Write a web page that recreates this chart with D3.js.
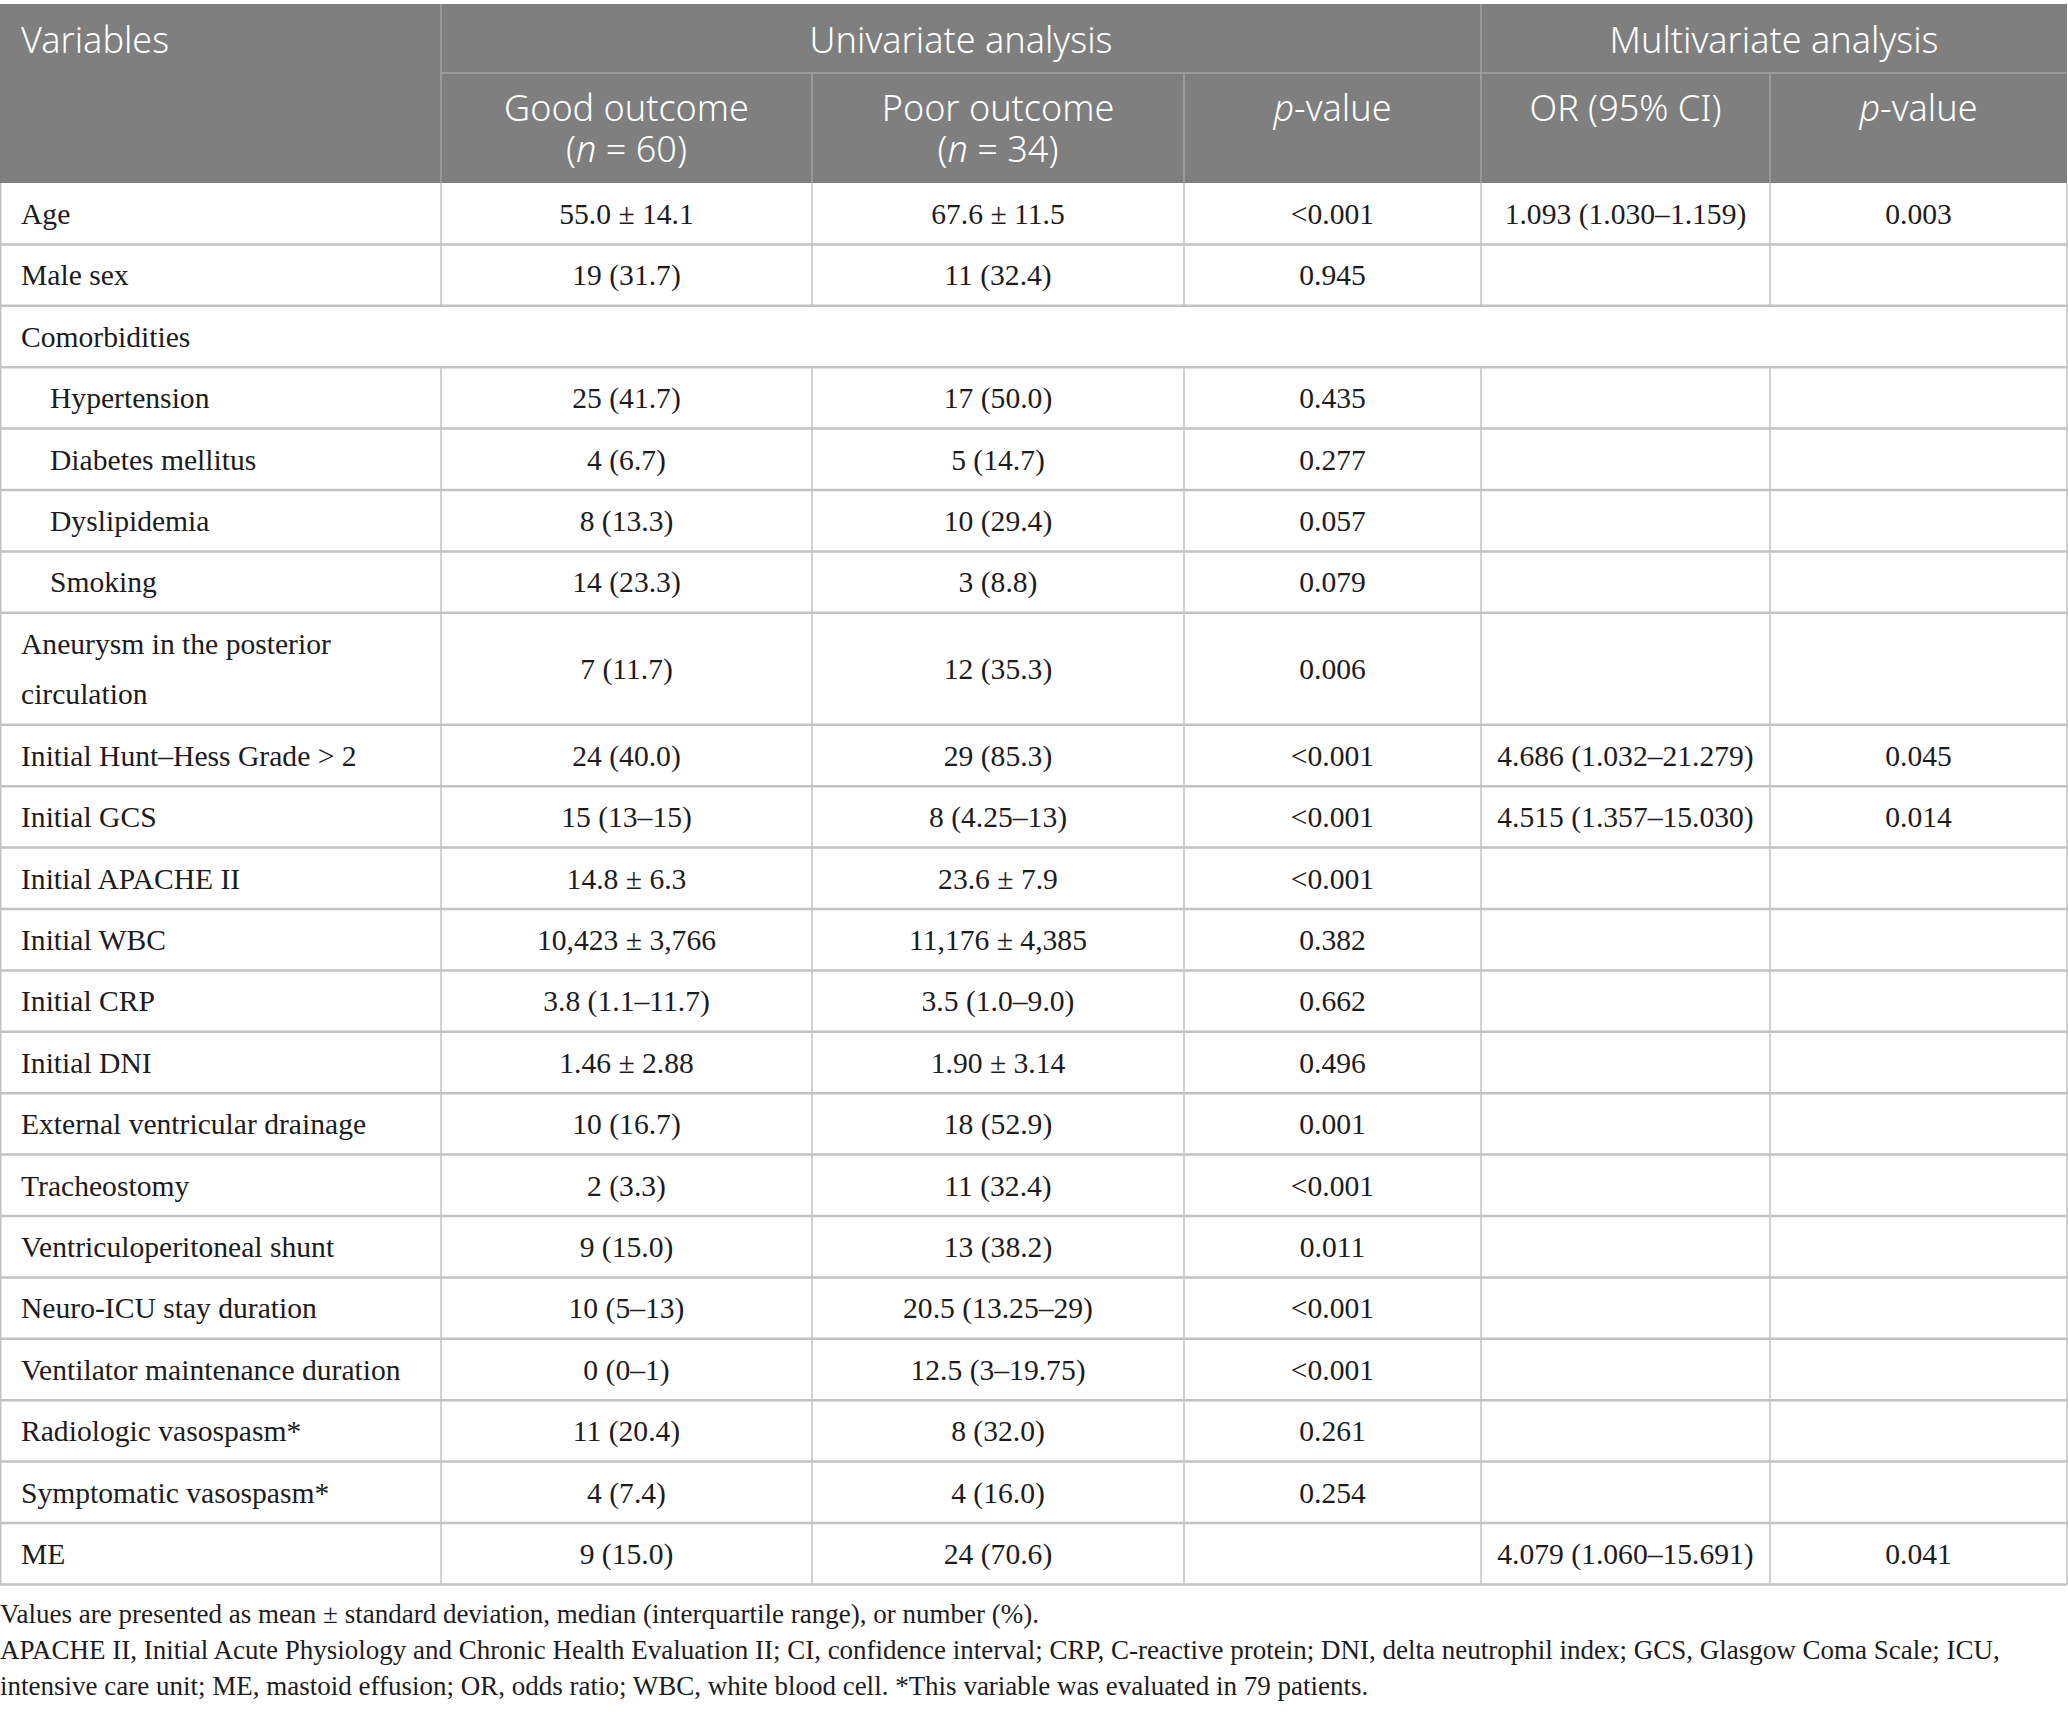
<!DOCTYPE html>
<html>
<head>
<meta charset="utf-8">
<script src="https://cdn.jsdelivr.net/npm/d3@7"></script>
<style>
  html, body { margin: 0; padding: 0; background: #fff; }
  svg { display: block; }
</style>
</head>
<body>
<div id="chart"></div>
<script>
// table content
const variables = [
  "Age", "Male sex", "Comorbidities", "Hypertension", "Diabetes mellitus",
  "Dyslipidemia", "Smoking", "Aneurysm in the posterior|circulation",
  "Initial Hunt\u2013Hess Grade > 2", "Initial GCS", "Initial APACHE II",
  "Initial WBC", "Initial CRP", "Initial DNI", "External ventricular drainage",
  "Tracheostomy", "Ventriculoperitoneal shunt", "Neuro-ICU stay duration",
  "Ventilator maintenance duration", "Radiologic vasospasm*",
  "Symptomatic vasospasm*", "ME"
]
const indented = [3, 4, 5, 6]
const spanRows = [2]

const goodOutcome = [
  "55.0 \u00b1 14.1", "19 (31.7)", "", "25 (41.7)", "4 (6.7)", "8 (13.3)",
  "14 (23.3)", "7 (11.7)", "24 (40.0)", "15 (13\u201315)", "14.8 \u00b1 6.3",
  "10,423 \u00b1 3,766", "3.8 (1.1\u201311.7)", "1.46 \u00b1 2.88", "10 (16.7)",
  "2 (3.3)", "9 (15.0)", "10 (5\u201313)", "0 (0\u20131)", "11 (20.4)",
  "4 (7.4)", "9 (15.0)"
]
const poorOutcome = [
  "67.6 \u00b1 11.5", "11 (32.4)", "", "17 (50.0)", "5 (14.7)", "10 (29.4)",
  "3 (8.8)", "12 (35.3)", "29 (85.3)", "8 (4.25\u201313)", "23.6 \u00b1 7.9",
  "11,176 \u00b1 4,385", "3.5 (1.0\u20139.0)", "1.90 \u00b1 3.14", "18 (52.9)",
  "11 (32.4)", "13 (38.2)", "20.5 (13.25\u201329)", "12.5 (3\u201319.75)",
  "8 (32.0)", "4 (16.0)", "24 (70.6)"
]
const pUnivariate = [
  "<0.001", "0.945", "", "0.435", "0.277", "0.057", "0.079", "0.006",
  "<0.001", "<0.001", "<0.001", "0.382", "0.662", "0.496", "0.001",
  "<0.001", "0.011", "<0.001", "<0.001", "0.261", "0.254", ""
]
const orCI = [
  "1.093 (1.030\u20131.159)", "", "", "", "", "", "", "",
  "4.686 (1.032\u201321.279)", "4.515 (1.357\u201315.030)", "", "", "", "", "",
  "", "", "", "", "", "", "4.079 (1.060\u201315.691)"
]
const pMultivariate = [
  "0.003", "", "", "", "", "", "", "", "0.045", "0.014", "", "", "", "", "",
  "", "", "", "", "", "", "0.041"
]
const footnotes = [
  "Values are presented as mean \u00b1 standard deviation, median (interquartile range), or number (%).",
  "APACHE II, Initial Acute Physiology and Chronic Health Evaluation II; CI, confidence interval; CRP, C-reactive protein; DNI, delta neutrophil index; GCS, Glasgow Coma Scale; ICU,",
  "intensive care unit; ME, mastoid effusion; OR, odds ratio; WBC, white blood cell. *This variable was evaluated in 79 patients."
]

const W = 2068, H = 1714
const colEdges = [0, 441, 812, 1184, 1481, 1770, 2067]
const headTop = 4, headMid = 73, headBottom = 183
const rowH = 61.4, tallH = 112
const serif = "'Liberation Serif', 'Times New Roman', serif"
const sans = "'Noto Sans', 'Open Sans', sans-serif"
const lineCol = "#c2c2c2"

const rowHeights = variables.map(v => v.includes("|") ? tallH : rowH)
const rowTops = d3.cumsum([0, ...rowHeights]).map(d => d + headBottom)
const rows = variables.map((v, i) => ({
  i, label: v.split("|"), top: rowTops[i], h: rowHeights[i],
  cells: [goodOutcome[i], poorOutcome[i], pUnivariate[i], orCI[i], pMultivariate[i]]
}))

const svg = d3.select("#chart").append("svg")
  .attr("width", W).attr("height", H)
  .attr("viewBox", [0, 0, W, H])

// header background
svg.append("rect")
  .attr("x", 0).attr("y", headTop)
  .attr("width", colEdges[6]).attr("height", headBottom - headTop)
  .attr("fill", "#7e7f7e")

const head = svg.append("g").attr("fill", "#fff").attr("font-family", sans)
  .attr("font-size", 36).attr("font-weight", 300)

head.append("text").attr("x", 21).attr("y", 53).text("Variables")
head.append("text").attr("x", (colEdges[1] + colEdges[4]) / 2).attr("y", 53)
  .attr("text-anchor", "middle").text("Univariate analysis")
head.append("text").attr("x", (colEdges[4] + colEdges[6]) / 2).attr("y", 53)
  .attr("text-anchor", "middle").text("Multivariate analysis")

const subHeads = [
  [["Good outcome"], ["(", ["n"], " = 60)"]],
  [["Poor outcome"], ["(", ["n"], " = 34)"]],
  [[["p"], "-value"]],
  [["OR (95% CI)"]],
  [[["p"], "-value"]]
]
subHeads.forEach((lines, c) => {
  const cx = (colEdges[c + 1] + colEdges[c + 2]) / 2
  lines.forEach((parts, li) => {
    const t = head.append("text").attr("x", cx).attr("y", 121 + li * 41).attr("text-anchor", "middle")
    parts.forEach(p => {
      if (Array.isArray(p)) t.append("tspan").attr("font-style", "italic").text(p[0])
      else t.append("tspan").text(p)
    })
  })
})

// header lines
const hl = svg.append("g").attr("stroke", "#a2a3a2").attr("stroke-width", 1.5)
hl.append("line").attr("x1", colEdges[1]).attr("x2", colEdges[6]).attr("y1", headMid).attr("y2", headMid)
hl.selectAll("line.v").data([1, 4]).join("line").attr("class", "v")
  .attr("x1", d => colEdges[d]).attr("x2", d => colEdges[d])
  .attr("y1", headTop).attr("y2", headBottom)
hl.selectAll("line.v2").data([2, 3, 5]).join("line").attr("class", "v2")
  .attr("x1", d => colEdges[d]).attr("x2", d => colEdges[d])
  .attr("y1", headMid).attr("y2", headBottom)

// body
const body = svg.append("g").attr("font-family", serif).attr("font-size", 29.6).attr("fill", "#1c1c1c")
const rowG = body.selectAll("g.row").data(rows).join("g").attr("class", "row")
  .attr("transform", d => `translate(0,${d.top})`)

rowG.append("line")
  .attr("x1", 0).attr("x2", colEdges[6]).attr("y1", d => d.h).attr("y2", d => d.h)
  .attr("stroke", lineCol).attr("stroke-width", 2.5)

rowG.filter(d => !spanRows.includes(d.i)).selectAll("line.v")
  .data(colEdges.slice(1, 6)).join("line").attr("class", "v")
  .attr("x1", d => d).attr("x2", d => d).attr("y1", 0)
  .attr("y2", function() { return d3.select(this.parentNode).datum().h })
  .attr("stroke", lineCol).attr("stroke-width", 1.5)

rowG.each(function(d) {
  const g = d3.select(this)
  const x0 = indented.includes(d.i) ? 50 : 21
  const n = d.label.length
  d.label.forEach((line, li) => {
    g.append("text").attr("x", x0)
      .attr("y", d.h / 2 + (li - (n - 1) / 2) * 50)
      .attr("dy", "0.35em").text(line)
  })
  d.cells.forEach((v, c) => {
    if (!v) return
    g.append("text").attr("x", (colEdges[c + 1] + colEdges[c + 2]) / 2)
      .attr("y", d.h / 2).attr("dy", "0.35em").attr("text-anchor", "middle").text(v)
  })
})

// outer borders
svg.append("g").attr("stroke", lineCol).attr("stroke-width", 1.5)
  .selectAll("line").data([0.75, colEdges[6]]).join("line")
  .attr("x1", d => d).attr("x2", d => d)
  .attr("y1", headBottom).attr("y2", rowTops[rowTops.length - 1])

// footnotes
svg.append("g").attr("font-family", serif).attr("font-size", 27).attr("fill", "#1c1c1c")
  .selectAll("text").data(footnotes).join("text")
  .attr("x", 0).attr("y", (d, i) => 1614 + i * 36).attr("dy", "0.35em")
  .text(d => d)
</script>
</body>
</html>
